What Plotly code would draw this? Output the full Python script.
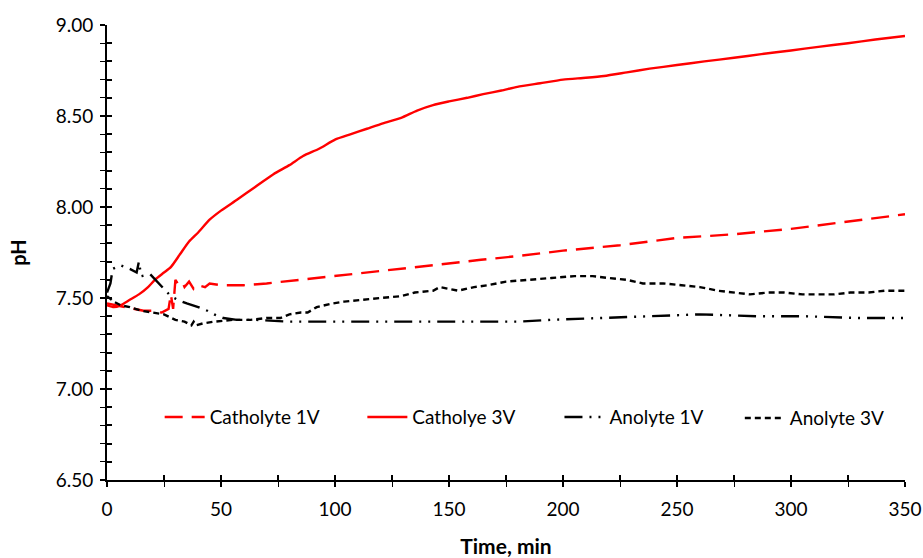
import plotly.graph_objects as go

# Catholyte 1V (dashed red)
t_c1 = [0, 4, 8, 12, 16, 20, 24, 27, 28, 29, 30, 31, 33, 34, 36, 38, 40, 43, 45, 50, 55, 60, 70, 85,
        100, 114, 130, 143, 164, 180, 200, 225, 250, 275, 300, 325, 350]
ph_c1 = [7.47, 7.46, 7.45, 7.44, 7.43, 7.43, 7.42, 7.44, 7.52, 7.44, 7.60, 7.58, 7.59, 7.56, 7.59, 7.55,
         7.57, 7.56, 7.58, 7.57, 7.57, 7.57, 7.58, 7.60, 7.62, 7.64, 7.66, 7.68, 7.71, 7.73, 7.76, 7.79,
         7.83, 7.85, 7.88, 7.92, 7.96]

# Catholye 3V (solid red)
t_c3 = [0, 3, 6, 10, 14, 18, 21, 25, 28, 32, 36, 40, 45, 50, 57, 65, 73, 80, 86, 93, 100, 107, 114,
        121, 129, 136, 143, 150, 158, 165, 173, 180, 190, 200, 210, 218, 228, 238, 250, 262, 275, 287,
        300, 312, 325, 337, 350]
ph_c3 = [7.46, 7.45, 7.46, 7.49, 7.52, 7.56, 7.60, 7.64, 7.67, 7.74, 7.81, 7.86, 7.93, 7.98, 8.04,
         8.11, 8.18, 8.23, 8.28, 8.32, 8.37, 8.40, 8.43, 8.46, 8.49, 8.53, 8.56, 8.58, 8.60, 8.62, 8.64,
         8.66, 8.68, 8.70, 8.71, 8.72, 8.74, 8.76, 8.78, 8.80, 8.82, 8.84, 8.86, 8.88, 8.90, 8.92, 8.94]

# Anolyte 1V (dash-dot-dot black)
t_a1 = [0, 1.5, 2.5, 6, 10, 13, 14, 15, 19, 22, 26, 28, 31, 35, 40, 44, 47, 51, 57, 65, 80, 100, 120,
        140, 160, 180, 195, 215, 240, 260, 285, 305, 330, 350]
ph_a1 = [7.53, 7.58, 7.66, 7.68, 7.66, 7.64, 7.70, 7.62, 7.63, 7.59, 7.54, 7.51, 7.49, 7.47, 7.45,
         7.43, 7.41, 7.39, 7.38, 7.38, 7.37, 7.37, 7.37, 7.37, 7.37, 7.37, 7.38, 7.39, 7.40, 7.41, 7.40,
         7.40, 7.39, 7.39]

# Anolyte 3V (short dash black)
t_a3 = [0, 3, 6, 10, 15, 20, 25, 30, 34, 37, 38, 39, 42, 47, 55, 63, 70, 76, 80, 85, 88, 92, 99, 104,
        114, 120, 129, 135, 143, 146, 150, 154, 161, 167, 175, 187, 195, 205, 213, 220, 228, 235, 244,
        252, 260, 268, 275, 282, 290, 297, 305, 319, 326, 334, 341, 350]
ph_a3 = [7.51, 7.48, 7.46, 7.45, 7.43, 7.42, 7.41, 7.38, 7.37, 7.35, 7.37, 7.35, 7.36, 7.37, 7.38,
         7.38, 7.39, 7.39, 7.41, 7.42, 7.42, 7.45, 7.47, 7.48, 7.49, 7.50, 7.51, 7.53, 7.54, 7.56, 7.55,
         7.54, 7.56, 7.57, 7.59, 7.60, 7.61, 7.62, 7.62, 7.61, 7.60, 7.58, 7.58, 7.57, 7.56, 7.54, 7.53,
         7.52, 7.53, 7.53, 7.52, 7.52, 7.53, 7.53, 7.54, 7.54]

FONT = "Lato"

fig = go.Figure()
fig.add_trace(go.Scatter(x=t_c1, y=ph_c1, mode="lines", name="Catholyte 1V", legend="legend",
                         line=dict(color="#FF0000", width=2.4, dash="18px,9px")))
fig.add_trace(go.Scatter(x=t_c3, y=ph_c3, mode="lines", name="Catholye 3V", legend="legend2",
                         line=dict(color="#FF0000", width=2.4, shape="spline", smoothing=0.6)))
fig.add_trace(go.Scatter(x=t_a1, y=ph_a1, mode="lines", name="Anolyte 1V", legend="legend3",
                         line=dict(color="#000000", width=2.4,
                                   dash="18px,7px,2px,7px,2px,7px")))
fig.add_trace(go.Scatter(x=t_a3, y=ph_a3, mode="lines", name="Anolyte 3V", legend="legend4",
                         line=dict(color="#000000", width=2.4, dash="6px,4px")))

axis_common = dict(showgrid=False, zeroline=False, showline=True, linecolor="black", linewidth=2,
                   ticks="outside", ticklen=5, tickwidth=1.5, tickcolor="black",
                   tickfont=dict(family=FONT, size=19, color="black"))


def leg(xpos, ypos):
    return dict(orientation="h", x=xpos, y=ypos, xanchor="left", yanchor="middle",
                bgcolor="rgba(0,0,0,0)", font=dict(family=FONT, size=19, color="black"),
                itemwidth=40)


fig.update_layout(
    width=923, height=558,
    margin=dict(l=107, r=18, t=25, b=78, autoexpand=False),
    paper_bgcolor="white", plot_bgcolor="white",
    font=dict(family=FONT, color="black"),
    xaxis=dict(range=[0, 350], dtick=50, tick0=0, ticklabelstandoff=6,
               minor=dict(dtick=25, ticks="outside", ticklen=5, tickcolor="black", tickwidth=1.2),
               title=dict(text="<b>Time, min</b>", font=dict(family=FONT, size=21), standoff=22),
               **axis_common),
    yaxis=dict(range=[6.5, 9.0], dtick=0.5, tick0=6.5, tickformat=".2f", ticklabelstandoff=3,
               minor=dict(dtick=0.1, ticks="outside", ticklen=5, tickcolor="black", tickwidth=1.2),
               title=dict(text="<b>pH</b>", font=dict(family=FONT, size=20), standoff=24),
               **axis_common),
    xaxis2=dict(range=[0, 350], overlaying="x", anchor="y", side="bottom", showgrid=False,
                zeroline=False, showline=False, showticklabels=False, ticks="inside", ticklen=5,
                tickwidth=1.5, tickcolor="black", dtick=25, tick0=0),
    yaxis2=dict(range=[6.5, 9.0], overlaying="y", anchor="x", side="left", showgrid=False,
                zeroline=False, showline=False, showticklabels=False, ticks="inside", ticklen=5,
                tickwidth=1.5, tickcolor="black", dtick=0.1, tick0=6.5),
    legend=leg(0.066, 0.138),
    legend2=leg(0.320, 0.138),
    legend3=leg(0.567, 0.138),
    legend4=leg(0.793, 0.136),
    showlegend=True,
)

# invisible helper trace so the overlay (inner tick) axes are drawn
fig.add_trace(go.Scatter(x=[0], y=[6.5], xaxis="x2", yaxis="y2", mode="lines",
                         showlegend=False, hoverinfo="skip", line=dict(width=0),
                         opacity=0))

fig.write_html("out.html")
